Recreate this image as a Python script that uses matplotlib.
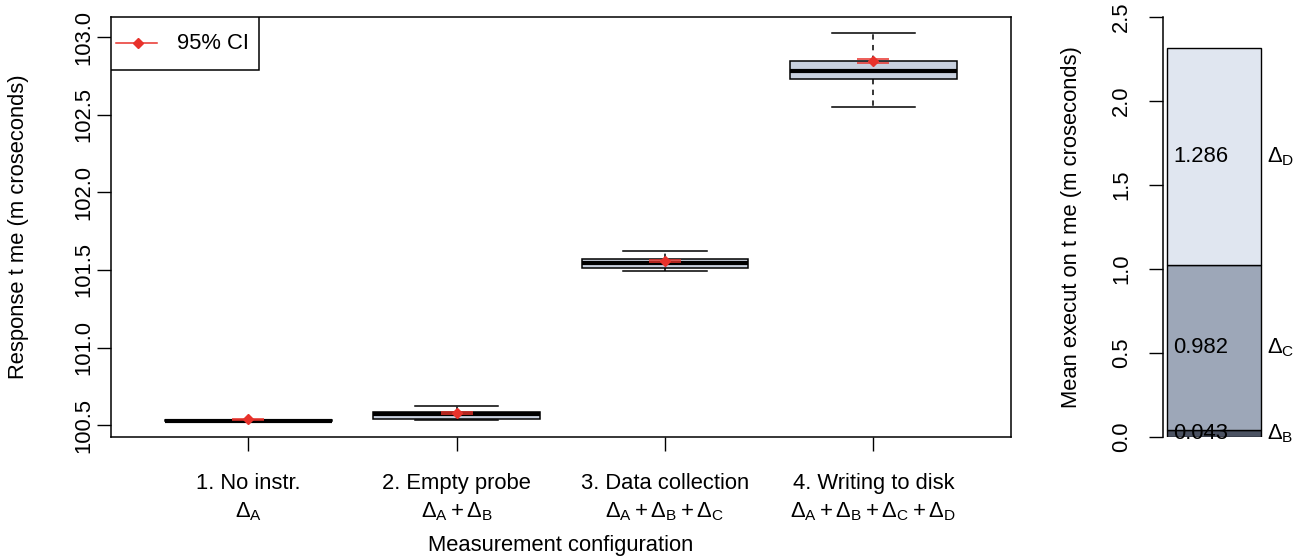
import matplotlib
matplotlib.use("Agg")
import matplotlib.pyplot as plt
from matplotlib.patches import Rectangle
from matplotlib.lines import Line2D

plt.rcParams['font.family'] = ['Liberation Sans', 'DejaVu Sans']
plt.rcParams['mathtext.fontset'] = 'custom'
plt.rcParams['mathtext.rm'] = 'Liberation Sans'
plt.rcParams['mathtext.it'] = 'Liberation Sans:italic'
plt.rcParams['mathtext.sf'] = 'Liberation Sans'
plt.rcParams['mathtext.default'] = 'rm'

# ---------------- data ----------------
configs = ["1. No instr.", "2. Empty probe", "3. Data collection", "4. Writing to disk"]
formulas = [r"$\Delta_\mathrm{A}$",
            r"$\Delta_\mathrm{A}+\Delta_\mathrm{B}$",
            r"$\Delta_\mathrm{A}+\Delta_\mathrm{B}+\Delta_\mathrm{C}$",
            r"$\Delta_\mathrm{A}+\Delta_\mathrm{B}+\Delta_\mathrm{C}+\Delta_\mathrm{D}$"]
whisker_low = [100.522, 100.530, 101.493, 102.552]
quartile1 = [100.526, 100.541, 101.514, 102.731]
medians = [100.528, 100.573, 101.543, 102.784]
quartile3 = [100.530, 100.584, 101.568, 102.849]
whisker_high = [100.533, 100.624, 101.624, 103.029]
ci_mean = [100.536, 100.577, 101.559, 102.847]
ci_half = [0.003, 0.004, 0.005, 0.014]

bar_names = [r"$\Delta_\mathrm{B}$", r"$\Delta_\mathrm{C}$", r"$\Delta_\mathrm{D}$"]
bar_values = [0.043, 0.982, 1.286]
bar_labels = ["0.043", "0.982", "1.286"]
bar_colors = ["#4b5262", "#9da7b8", "#e0e6f0"]

FS = 15.8
RED = "#e8322b"
W, H = 1307, 560
fig = plt.figure(figsize=(W / 100, H / 100), dpi=100)

# ---------------- main boxplot ----------------
L, R, T, B = 110.7, 1011, 16.7, 437
ax = fig.add_axes([L / W, 1 - B / H, (R - L) / W, (B - T) / H])
positions = list(range(1, len(configs) + 1))
stats = []
for i in range(len(configs)):
    stats.append(dict(whislo=whisker_low[i], q1=quartile1[i], med=medians[i],
                      q3=quartile3[i], whishi=whisker_high[i], fliers=[]))
ax.bxp(stats, positions=positions, widths=0.8, capwidths=0.4, patch_artist=True,
       showfliers=False,
       boxprops=dict(facecolor="#c8d0de", edgecolor="black", linewidth=1.1),
       whiskerprops=dict(color="black", linewidth=1.1, linestyle=(0, (3.5, 3.5))),
       capprops=dict(color="black", linewidth=1.1),
       medianprops=dict(color="black", linewidth=3.0, solid_capstyle="butt"))
ax.errorbar(positions, ci_mean, yerr=ci_half, fmt="D", color=RED, ecolor=RED,
            markersize=5, capsize=11.5, elinewidth=1.1, capthick=1.1, zorder=5)

ax.set_xlim(0.34, 4.66)
ax.set_ylim(100.423, 103.133)
ax.set_yticks([100.5, 101.0, 101.5, 102.0, 102.5, 103.0])
ax.set_yticklabels(["100.5", "101.0", "101.5", "102.0", "102.5", "103.0"],
                   rotation=90, va="center", ha="right")
ax.set_xticks(positions)
ax.set_xticklabels(configs)
ax.tick_params(axis="both", direction="out", length=10, width=1.0, labelsize=FS, color="black")
ax.tick_params(axis="x", pad=16)
ax.tick_params(axis="y", pad=2)
for sp in ax.spines.values():
    sp.set_linewidth(1.1)
for p, f in zip(positions, formulas):
    ax.text(p, -0.178, f, transform=ax.get_xaxis_transform(), ha="center", va="center",
            fontsize=FS)
ax.set_xlabel("Measurement configuration", fontsize=FS, va="center")
ax.xaxis.set_label_coords(0.5, -0.257)
ax.set_ylabel("Response t me (m croseconds)", fontsize=FS, va="center")
ax.yaxis.set_label_coords(-0.102, 0.5)

# manual legend
lw_ax = (259 - L) / (R - L)
lh_ax = (B - 70) / (B - T)
ax.add_patch(Rectangle((0, lh_ax), lw_ax, 1 - lh_ax, transform=ax.transAxes,
                       facecolor="white", edgecolor="black", linewidth=1.1, zorder=6))
ly = (lh_ax + 1) / 2
ax.add_line(Line2D([(116 - L) / (R - L), (156.7 - L) / (R - L)], [ly, ly],
                   transform=ax.transAxes, color=RED, linewidth=1.1, zorder=7))
ax.plot([(137.7 - L) / (R - L)], [ly], marker="D", markersize=5, color=RED,
        transform=ax.transAxes, zorder=7)
ax.text((176.7 - L) / (R - L), ly, "95% CI", transform=ax.transAxes, ha="left",
        va="center", fontsize=FS, zorder=7)

# ---------------- stacked bar ----------------
L2, R2 = 1162.9, 1264.5
ax2 = fig.add_axes([L2 / W, 1 - B / H, (R2 - L2) / W, (B - T) / H])
bottom = 0.0
for v, c, lab, nm in zip(bar_values, bar_colors, bar_labels, bar_names):
    ax2.bar(0.7, v, width=1.0, bottom=bottom, color=c, edgecolor="black", linewidth=1.0)
    mid = bottom + v / 2
    ax2.text(0.2 + 0.067, mid, lab, ha="left", va="center", fontsize=FS)
    ax2.text(1.2 + 0.067, mid, nm, ha="left", va="center", fontsize=FS, clip_on=False)
    bottom += v
ax2.set_xlim(0.16, 1.24)
ax2.set_ylim(0, 2.5)
ax2.set_yticks([0.0, 0.5, 1.0, 1.5, 2.0, 2.5])
ax2.set_yticklabels(["0.0", "0.5", "1.0", "1.5", "2.0", "2.5"], rotation=90,
                    va="center", ha="right")
ax2.set_xticks([])
for s in ["top", "right", "bottom"]:
    ax2.spines[s].set_visible(False)
ax2.spines["left"].set_linewidth(1.1)
ax2.tick_params(axis="y", direction="out", length=10, width=1.0, labelsize=FS, pad=12)
ax2.set_ylabel("Mean execut on t me (m croseconds)", fontsize=FS, va="center")
ax2.yaxis.set_label_coords(-0.898, 0.5)

fig.savefig("out.png", dpi=100)
